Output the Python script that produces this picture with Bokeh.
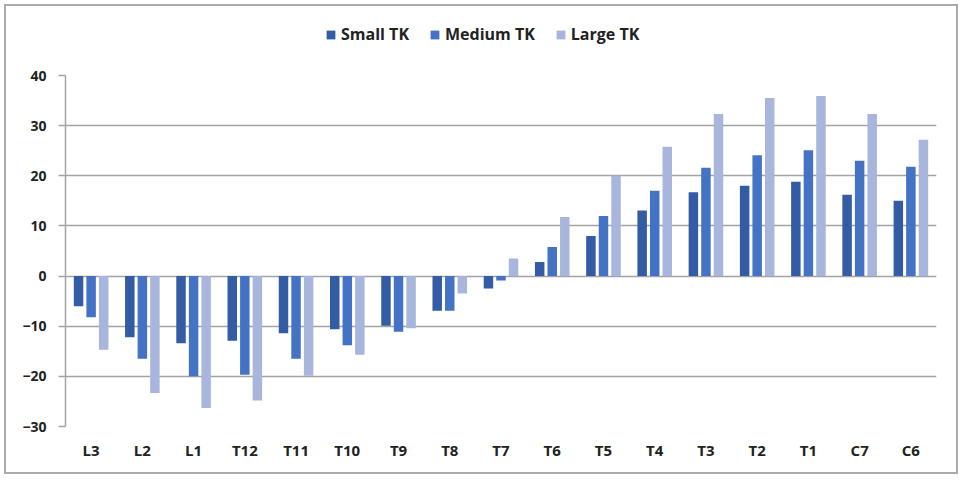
from bokeh.plotting import figure
from bokeh.layouts import column
from bokeh.models import ColumnDataSource, FactorRange, Legend, LegendItem, Range1d, FixedTicker
from bokeh.transform import dodge
from bokeh.embed import file_html
from bokeh.resources import INLINE

categories = ["L3", "L2", "L1", "T12", "T11", "T10", "T9", "T8", "T7",
              "T6", "T5", "T4", "T3", "T2", "T1", "C7", "C6"]
small_tk = [-6.0, -12.2, -13.4, -12.9, -11.4, -10.6, -9.9, -6.9, -2.5,
            2.8, 8.0, 13.1, 16.7, 18.0, 18.8, 16.2, 15.0]
medium_tk = [-8.2, -16.5, -20.0, -19.7, -16.5, -13.8, -11.1, -6.9, -0.9,
             5.8, 12.0, 17.0, 21.6, 24.1, 25.1, 23.0, 21.8]
large_tk = [-14.7, -23.3, -26.3, -24.8, -19.9, -15.7, -10.4, -3.5, 3.5,
            11.8, 20.0, 25.8, 32.3, 35.5, 35.9, 32.3, 27.2]
y_ticks = [-30, -20, -10, 0, 10, 20, 30, 40]
series_names = ["Small TK", "Medium TK", "Large TK"]
colors = ["#335CA4", "#4472C4", "#A8B6DD"]

src = ColumnDataSource(dict(cat=categories, small=small_tk, medium=medium_tk, large=large_tk))

FONT = "Open Sans"
p = figure(width=950, height=406, x_range=FactorRange(factors=categories, range_padding=0),
           y_range=Range1d(-30, 40), output_backend="svg", toolbar_location=None,
           min_border_left=59, min_border_right=20, min_border_top=9, min_border_bottom=46)
p.outline_line_color = None
p.background_fill_color = "white"
p.border_fill_color = "white"

w = 0.185
off = 0.245
p.vbar(x=dodge("cat", -off, range=p.x_range), top="small", bottom=0, width=w,
       source=src, fill_color=colors[0], line_color=None)
p.vbar(x=dodge("cat", 0, range=p.x_range), top="medium", bottom=0, width=w,
       source=src, fill_color=colors[1], line_color=None)
p.vbar(x=dodge("cat", off, range=p.x_range), top="large", bottom=0, width=w,
       source=src, fill_color=colors[2], line_color=None)

p.xgrid.grid_line_color = None
p.ygrid.grid_line_color = "#a3a3a3"
p.ygrid.grid_line_width = 1.5
p.yaxis.ticker = FixedTicker(ticks=y_ticks)
p.yaxis.axis_line_color = "#a3a3a3"
p.yaxis.axis_line_width = 1.5
p.yaxis.major_tick_line_color = "#a3a3a3"
p.yaxis.major_tick_line_width = 1.5
p.yaxis.major_tick_out = 7
p.yaxis.major_tick_in = 0
p.yaxis.minor_tick_line_color = None
p.yaxis.major_label_standoff = 12
p.xaxis.axis_line_color = None
p.xaxis.major_tick_line_color = None
p.xaxis.minor_tick_line_color = None
p.xaxis.major_label_standoff = 7
for ax, fs in ((p.xaxis[0], "15px"), (p.yaxis[0], "14px")):
    ax.major_label_text_font = FONT
    ax.major_label_text_font_style = "bold"
    ax.major_label_text_font_size = fs
    ax.major_label_text_color = "#222222"

# legend strip above the plot
lg = figure(width=950, height=60, x_range=Range1d(0, 1), y_range=Range1d(0, 1),
            output_backend="svg", toolbar_location=None,
            min_border_left=0, min_border_right=0, min_border_top=0, min_border_bottom=0)
lg.axis.visible = False
lg.grid.visible = False
lg.outline_line_color = None
lg.background_fill_color = "white"
lg.border_fill_color = "white"
# zero-height placeholder bars so that the legend swatches get their colours
holder = ColumnDataSource(dict(x=[0.5], top=[0.0]))
items = []
for name, c in zip(series_names, colors):
    r = lg.vbar(x="x", top="top", bottom=0, width=0.01, source=holder,
                fill_color=c, line_color=None)
    items.append(LegendItem(label=name, renderers=[r]))
legend = Legend(items=items, orientation="horizontal", location=(260, 21),
                label_text_font=FONT, label_text_font_style="bold",
                label_text_font_size="16px", label_text_color="#222222",
                glyph_width=11, glyph_height=11, spacing=20, label_standoff=5,
                border_line_color=None, background_fill_alpha=0,
                margin=0, padding=0)
lg.add_layout(legend)

layout = column(lg, p, spacing=0)
layout.margin = (6, 0, 0, 6)
layout.styles = {"outline": "2px solid #ababab"}

open("out.html", "w").write(file_html(layout, INLINE))
